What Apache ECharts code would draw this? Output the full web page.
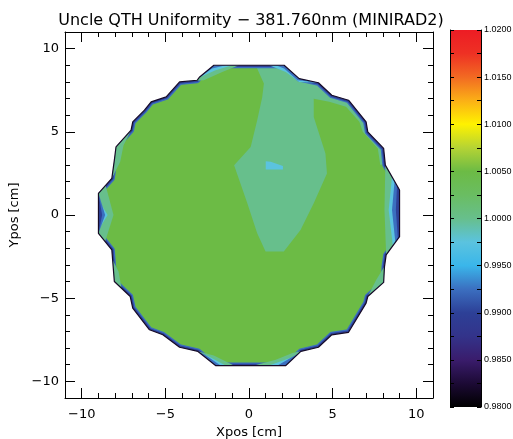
<!DOCTYPE html>
<html><head><meta charset="utf-8">
<script src="https://cdn.jsdelivr.net/npm/echarts@6/dist/echarts.min.js"></script>
<style>html,body{margin:0;padding:0;background:#fff}#c{width:513px;height:439px}</style>
</head><body><div id="c"></div>
<script>
// ---------------- data ----------------
const titleText = 'Uncle QTH Uniformity \u2212 381.760nm (MINIRAD2)';
const axisRange = [-11, 11];
const majorTicks = [-10, -5, 0, 5, 10];
const colorbarRange = [0.98, 1.02];
const colorbarLabels = [0.98, 0.985, 0.99, 0.995, 1.0, 1.005, 1.01, 1.015, 1.02];
const colorbarStops = [
  [0.98, '#000000'], [0.9825, '#1c0a35'], [0.985, '#3a1c6c'], [0.9875, '#33338a'],
  [0.99, '#2d4097'], [0.9925, '#3b6fc0'], [0.995, '#3ab6ea'], [0.9975, '#5bc3df'],
  [1.0, '#67bf8c'], [1.0025, '#6abd62'], [1.005, '#6cbb45'], [1.0075, '#b5d334'],
  [1.01, '#fff200'], [1.0125, '#fbb016'], [1.015, '#f26a22'], [1.0175, '#ee3124'], [1.02, '#ed1c24']
];

// contour levels of the filled regions
const levelMain = 1.005, levelTeal = 1.0, levelLight = 0.9975, levelBlue = 0.9925, levelNavy = 0.99;

// measured region outline (cm)
const outline = [
  [-2.1, 9.0], [2.1, 9.0], [3.0, 8.2], [4.15, 7.95], [4.95, 7.2], [5.95, 6.9], [7.0, 5.6], [7.1, 5.0],
  [8.05, 4.0], [8.15, 3.0], [9.0, 1.5], [9.0, -1.3], [8.2, -2.4], [8.1, -3.1], [8.05, -4.05], [7.1, -4.9],
  [7.0, -5.3], [5.95, -7.05], [4.95, -7.2], [4.15, -7.95], [3.1, -8.2], [2.2, -9.05], [-2.0, -9.05],
  [-3.05, -8.2], [-4.15, -7.95], [-5.15, -7.2], [-5.95, -6.9], [-6.95, -5.6], [-7.1, -4.9], [-8.05, -4.0],
  [-8.2, -2.1], [-9.0, -1.1], [-9.0, 1.3], [-8.2, 2.2], [-8.05, 3.3], [-7.95, 4.1], [-7.05, 5.1],
  [-6.95, 5.6], [-6.25, 6.3], [-5.85, 6.8], [-4.95, 7.1], [-4.15, 8.0], [-3.1, 8.1], [-2.95, 8.3]
];
const tealRegion = [
  [0.4, 9.0], [2.1, 9.0], [3.0, 8.25], [4.1, 8.0], [5.0, 7.2], [6.0, 6.9], [7.0, 5.6], [7.1, 5.0],
  [8.0, 4.0], [8.1, 3.1], [7.85, 3.0], [7.7, 4.0], [6.8, 5.0], [6.6, 5.6], [5.8, 6.5], [4.8, 6.8],
  [3.87, 6.99], [3.87, 5.89], [4.57, 3.69], [4.66, 2.5], [3.87, 0.7], [3.08, -0.9], [2.08, -2.2],
  [0.99, -2.2], [0.49, -1.1], [-0.1, 0.7], [-0.89, 2.99], [0.1, 4.09], [0.49, 5.69], [0.79, 7.08], [0.89, 7.9]
];
const cyanBlob = [[1.0, 3.23], [1.3, 3.2], [2.03, 2.95], [2.03, 2.74], [1.0, 2.74]];

const tealPatches = [
  [[-8.6, 1.9], [-9.0, 1.3], [-9.0, -1.1], [-8.6, -1.6], [-8.1, 0.0]],
  [[8.15, 3.0], [9.0, 1.5], [9.0, -1.3], [8.2, -2.4], [8.1, 0.3]],
  [[-3.6, 8.05], [-2.95, 8.3], [-2.1, 9.0], [-0.6, 9.0], [-1.6, 8.6], [-2.7, 8.1]],
  [[-3.6, -8.05], [-3.05, -8.2], [-2.0, -9.05], [-0.9, -9.05], [-2.1, -8.45]],
  [[0.3, -9.05], [2.2, -9.05], [3.1, -8.2], [4.15, -7.95], [2.6, -8.3], [1.6, -8.7]],
  [[-8.2, 2.2], [-8.05, 3.3], [-7.95, 4.1], [-7.05, 5.1], [-7.5, 4.2], [-7.7, 3.2]],
  [[8.15, -3.0], [8.05, -4.05], [7.1, -4.9], [7.6, -3.9]],
  [[-8.2, -2.6], [-8.05, -4.0], [-7.6, -4.5], [-7.8, -3.4]]
];
const lightBluePatches = [
  [[-9.0, 0.9], [-9.0, -0.9], [-8.45, 0.0]],
  [[8.55, 2.3], [9.0, 1.5], [9.0, -1.3], [8.6, -1.85], [8.35, 0.3]],
  [[1.2, 9.0], [2.1, 9.0], [3.0, 8.2], [4.15, 7.95], [3.0, 8.0], [2.2, 8.6]],
  [[-3.0, 8.25], [-2.1, 9.0], [-1.0, 9.0], [-2.0, 8.7]],
  [[-3.4, -8.1], [-3.05, -8.2], [-2.0, -9.05], [-1.4, -9.05], [-2.4, -8.5]],
  [[1.2, -9.05], [2.2, -9.05], [3.1, -8.2], [3.9, -8.0], [2.7, -8.5]]
];
const bluePatches = [
  [[-9.0, 1.3], [-9.0, -1.1], [-8.6, 0.0]],
  [[8.7, 2.0], [9.0, 1.5], [9.0, -1.3], [8.75, -1.65], [8.55, 0.3]],
  [[1.6, 9.0], [2.1, 9.0], [3.0, 8.2], [3.8, 8.0], [2.9, 8.1], [2.1, 8.8]],
  [[-2.95, 8.3], [-2.1, 9.0], [-1.4, 9.0], [-2.2, 8.8]],
  [[-3.8, -8.0], [-3.05, -8.2], [-2.0, -9.05], [-1.7, -9.05], [-2.7, -8.35]],
  [[1.7, -9.05], [2.2, -9.05], [3.1, -8.2], [4.0, -7.97], [2.9, -8.35]]
];
const navyPatches = [
  [[-9.0, 1.3], [-9.0, -1.1], [-8.78, 0.0]],
  [[8.85, 1.8], [9.0, 1.5], [9.0, -1.3], [8.9, -1.45], [8.78, 0.3]]
];

// ---------------- styles ----------------
const FONT = 'DejaVu Sans';
const edgeBands = [{ level: levelBlue, width: 6 }, { level: levelNavy, width: 3.5 }];

function colorOf(v) {
  let best = colorbarStops[0];
  for (const s of colorbarStops) if (Math.abs(s[0] - v) < Math.abs(best[0] - v)) best = s;
  return best[1];
}
function polySeries(polys, level) {
  return {
    type: 'custom', coordinateSystem: 'cartesian2d', xAxisIndex: 0, yAxisIndex: 0,
    silent: true, animation: false,
    data: polys.map(() => [0, 0]),
    renderItem: (params, api) => ({
      type: 'polygon',
      shape: { points: polys[params.dataIndex].map(p => api.coord(p)) },
      style: { fill: colorOf(level) }
    })
  };
}
const fmtMinus = v => String(v).replace('-', '\u2212');

const mainAxisCommon = (pos, withLabels) => ({
  gridIndex: 0, type: 'value', min: axisRange[0], max: axisRange[1], position: pos, z: 10,
  axisLine: { show: true, onZero: false, lineStyle: { color: '#000', width: 1 } },
  axisTick: { show: true, inside: true, length: 10, customValues: majorTicks, lineStyle: { color: '#000', width: 1 } },
  axisLabel: { show: withLabels, customValues: majorTicks, formatter: fmtMinus, color: '#000', fontSize: 13, fontFamily: FONT },
  splitLine: { show: false }
});
const minorAxis = (pos) => ({
  gridIndex: 1, type: 'value', min: axisRange[0], max: axisRange[1], interval: 1, position: pos, z: 10,
  axisLine: { show: false, onZero: false },
  axisTick: { show: true, inside: true, length: 5, lineStyle: { color: '#000', width: 1 } },
  axisLabel: { show: false }, splitLine: { show: false }
});
const cbAxis = (pos, withLabels) => ({
  gridIndex: 2, type: 'value', min: colorbarRange[0], max: colorbarRange[1], interval: 0.0025, position: pos, z: 10,
  axisLine: { show: true, onZero: false, lineStyle: { color: '#000', width: 1 } },
  axisTick: { show: true, inside: true, length: 4, lineStyle: { color: '#000', width: 1 } },
  axisLabel: { show: withLabels, customValues: colorbarLabels, formatter: v => Number(v).toFixed(4),
    color: '#000', fontSize: 9, margin: 3, fontFamily: 'Liberation Sans' },
  splitLine: { show: false }
});

const xAxes = [
  Object.assign(mainAxisCommon('bottom', true), {
    name: 'Xpos [cm]', nameLocation: 'middle', nameGap: 28,
    nameTextStyle: { color: '#000', fontSize: 13, fontFamily: FONT }
  }),
  mainAxisCommon('top', false),
  minorAxis('bottom'), minorAxis('top'),
  { gridIndex: 2, type: 'value', min: 0, max: 1, show: false }
];
xAxes[0].axisLabel.margin = 10;
const yAxes = [
  Object.assign(mainAxisCommon('left', true), {
    name: 'Ypos [cm]', nameLocation: 'middle', nameGap: 30, nameRotate: 90,
    nameTextStyle: { color: '#000', fontSize: 13, fontFamily: FONT }
  }),
  mainAxisCommon('right', false),
  minorAxis('left'), minorAxis('right'),
  cbAxis('left', false), cbAxis('right', true)
];
yAxes[0].axisLabel.margin = 6;

const series = [
  polySeries([outline], levelMain),
  polySeries([tealRegion], levelTeal),
  polySeries([cyanBlob], levelLight),
  {
    type: 'custom', coordinateSystem: 'cartesian2d', xAxisIndex: 0, yAxisIndex: 0, silent: true, animation: false,
    data: edgeBands.map(() => [0, 0]),
    renderItem: (params, api) => ({
      type: 'polygon',
      shape: { points: outline.map(p => api.coord(p)) },
      style: { fill: 'none', stroke: colorOf(edgeBands[params.dataIndex].level),
        lineWidth: edgeBands[params.dataIndex].width, lineJoin: 'round' }
    })
  },
  polySeries(tealPatches, levelTeal),
  polySeries(lightBluePatches, levelLight),
  polySeries(bluePatches, levelBlue),
  polySeries(navyPatches, levelNavy),
  {
    type: 'custom', coordinateSystem: 'cartesian2d', xAxisIndex: 0, yAxisIndex: 0, silent: true, animation: false,
    data: [[0, 0]],
    renderItem: (params, api) => {
      const a = axisRange[0], b = axisRange[1];
      const rect = [[a, b], [b, b], [b, a], [a, a], [a, b]];
      const hole = [outline[0]].concat(outline.slice(1).reverse(), [outline[0]]);
      return { type: 'polygon', shape: { points: rect.concat(hole).map(p => api.coord(p)) }, style: { fill: '#ffffff' } };
    }
  },
  {
    type: 'custom', coordinateSystem: 'cartesian2d', xAxisIndex: 0, yAxisIndex: 0, silent: true, animation: false,
    data: [[0, 0]],
    renderItem: (params, api) => ({
      type: 'polygon',
      shape: { points: outline.map(p => api.coord(p)) },
      style: { fill: 'none', stroke: '#160a26', lineWidth: 1.2, lineJoin: 'round' }
    })
  },
  {
    type: 'custom', coordinateSystem: 'cartesian2d', xAxisIndex: 4, yAxisIndex: 4, silent: true, animation: false,
    data: [[0, colorbarRange[0]]],
    renderItem: (params, api) => {
      const p0 = api.coord([0, colorbarRange[0]]);
      const p1 = api.coord([1, colorbarRange[1]]);
      const span = colorbarRange[1] - colorbarRange[0];
      const stops = colorbarStops.map(s => ({ offset: (s[0] - colorbarRange[0]) / span, color: s[1] }));
      return {
        type: 'rect',
        shape: { x: p0[0], y: p1[1], width: p1[0] - p0[0], height: p0[1] - p1[1] },
        style: { fill: new echarts.graphic.LinearGradient(0, 1, 0, 0, stops) }
      };
    }
  }
];

const gridBase = { containLabel: false, outerBoundsMode: 'none' };
const chart = echarts.init(document.getElementById('c'), null, { renderer: 'canvas', width: 513, height: 439 });
chart.setOption({
  animation: false,
  backgroundColor: '#ffffff',
  title: {
    text: titleText, left: 246, top: 8, textAlign: 'center',
    textStyle: { fontFamily: FONT, fontSize: 16, fontWeight: 'normal', color: '#000' }
  },
  grid: [
    Object.assign({ left: 65, top: 32, width: 368, height: 366 }, gridBase),
    Object.assign({ left: 65, top: 32, width: 368, height: 366 }, gridBase),
    Object.assign({ left: 450, top: 30, width: 31, height: 377 }, gridBase)
  ],
  xAxis: xAxes,
  yAxis: yAxes,
  series: series
});
</script>
</body></html>
